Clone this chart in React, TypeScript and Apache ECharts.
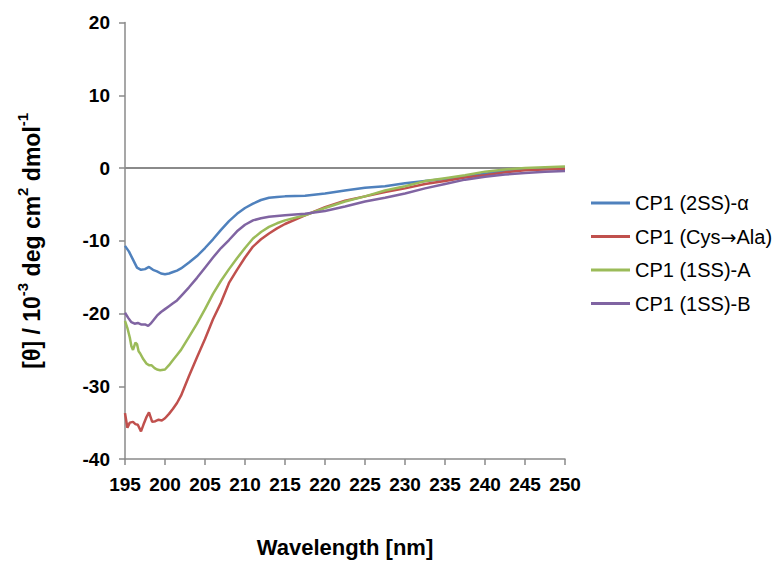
import React, { useEffect, useRef } from "react";
import * as echarts from "echarts";

const seriesNames = ["CP1 (2SS)-α", "CP1 (Cys→Ala)", "CP1 (1SS)-A", "CP1 (1SS)-B"];
const seriesColors = ["#4F81BD", "#C0504D", "#9BBB59", "#8064A2"];

const blueX = [195, 195.5, 196, 196.5, 197, 197.5, 198, 198.5, 199, 199.5, 200, 200.5, 201, 201.5, 202, 203, 204, 205, 206, 207, 208, 209, 210, 211, 212, 213, 214, 215, 217.5, 220, 222.5, 225, 227.5, 230, 232.5, 235, 237.5, 240, 242.5, 245, 247.5, 250];
const blueY = [-10.7, -11.5, -12.6, -13.7, -14.0, -13.9, -13.6, -14.0, -14.2, -14.5, -14.6, -14.5, -14.3, -14.1, -13.8, -13.0, -12.1, -11.0, -9.8, -8.5, -7.3, -6.3, -5.5, -4.9, -4.4, -4.1, -4.0, -3.9, -3.8, -3.5, -3.1, -2.7, -2.5, -2.1, -1.8, -1.5, -1.2, -0.8, -0.4, -0.2, 0.0, 0.1];

const redX = [195, 195.3, 195.6, 196, 196.3, 196.6, 197, 197.3, 197.7, 198, 198.4, 198.8, 199.2, 199.6, 200, 200.5, 201, 201.5, 202, 203, 204, 205, 206, 207, 208, 209, 210, 211, 212, 213, 214, 215, 217.5, 220, 222.5, 225, 227.5, 230, 232.5, 235, 237.5, 240, 242.5, 245, 247.5, 250];
const redY = [-33.7, -35.7, -35.0, -34.9, -35.2, -35.3, -36.2, -35.3, -34.2, -33.6, -34.9, -34.8, -34.6, -34.7, -34.4, -33.8, -33.1, -32.3, -31.3, -28.6, -26.0, -23.5, -20.8, -18.5, -15.8, -14.0, -12.3, -10.8, -9.8, -9.0, -8.3, -7.7, -6.5, -5.4, -4.5, -3.9, -3.3, -2.8, -2.2, -1.8, -1.3, -1.0, -0.6, -0.3, -0.2, -0.1];

const greenX = [195, 195.3, 195.6, 195.8, 196, 196.3, 196.5, 196.7, 196.9, 197.3, 197.7, 198, 198.3, 198.7, 199, 199.4, 200, 200.5, 201, 201.5, 202, 203, 204, 205, 206, 207, 208, 209, 210, 211, 212, 213, 214, 215, 217.5, 220, 222.5, 225, 227.5, 230, 232.5, 235, 237.5, 240, 242.5, 245, 247.5, 250];
const greenY = [-21.0, -22.0, -23.3, -24.5, -25.0, -24.0, -24.2, -25.2, -25.5, -26.3, -26.9, -27.1, -27.1, -27.5, -27.7, -27.8, -27.7, -27.1, -26.4, -25.7, -25.0, -23.2, -21.4, -19.4, -17.3, -15.5, -13.9, -12.4, -11.0, -9.7, -8.8, -8.1, -7.6, -7.2, -6.5, -5.5, -4.6, -3.9, -3.1, -2.5, -1.8, -1.4, -1.0, -0.5, -0.2, 0.0, 0.1, 0.2];

const purpleX = [195, 195.4, 195.8, 196.2, 196.6, 197, 197.5, 197.9, 198.2, 198.5, 199, 199.5, 200, 200.5, 201, 201.5, 202, 203, 204, 205, 206, 207, 208, 209, 210, 211, 212, 213, 214, 215, 217.5, 220, 222.5, 225, 227.5, 230, 232.5, 235, 237.5, 240, 242.5, 245, 247.5, 250];
const purpleY = [-19.9, -20.6, -21.2, -21.4, -21.3, -21.5, -21.5, -21.7, -21.4, -21.0, -20.3, -19.8, -19.4, -19.0, -18.6, -18.2, -17.6, -16.4, -15.1, -13.7, -12.3, -11.0, -9.9, -8.7, -7.8, -7.2, -6.9, -6.7, -6.6, -6.5, -6.3, -5.9, -5.3, -4.6, -4.1, -3.5, -2.8, -2.2, -1.6, -1.2, -0.9, -0.7, -0.5, -0.4];

const xTicks = { min: 195, max: 250, interval: 5 };
const yTicks = { min: -40, max: 20, interval: 10 };

const allX = [blueX, redX, greenX, purpleX];
const allY = [blueY, redY, greenY, purpleY];

const FONT = '"Liberation Sans", Arial, sans-serif';
const ARROW_FONT = '"DejaVu Sans", sans-serif';

export default function App() {
  const ref = useRef<HTMLDivElement>(null);
  useEffect(() => {
    if (!ref.current) return;
    const chart = echarts.init(ref.current, null, { renderer: "svg" });
    const series = seriesNames.map((name, i) => ({
      name,
      type: "line",
      data: allX[i].map((x, j) => [x, allY[i][j]]),
      symbol: "none",
      smooth: false,
      z: 3,
      lineStyle: { color: seriesColors[i], width: 2.5 },
      itemStyle: { color: seriesColors[i] },
      ...(i === 0
        ? {
            markLine: {
              silent: true,
              symbol: "none",
              label: { show: false },
              z: 1,
              lineStyle: { color: "#8A8A8A", width: 2, type: "solid" },
              data: [{ yAxis: 0 }],
            },
          }
        : {}),
    }));
    chart.setOption({
      animation: false,
      backgroundColor: "#ffffff",
      textStyle: { fontFamily: FONT },
      grid: { left: 125, right: 210, top: 22.5, bottom: 101, containLabel: false },
      legend: {
        orient: "vertical",
        left: 586,
        top: 187,
        icon: "rect",
        itemWidth: 39,
        itemHeight: 3,
        itemGap: 11.5,
        formatter: (name: string) => {
          const parts = name.split("→");
          if (parts.length === 2) return `{t|${parts[0]}}{a|→}{t|${parts[1]}}`;
          return `{t|${name}}`;
        },
        textStyle: {
          fontFamily: FONT,
          fontSize: 20,
          color: "#000",
          lineHeight: 22,
          rich: {
            t: { fontFamily: FONT, fontSize: 20, color: "#000", lineHeight: 22 },
            a: { fontFamily: ARROW_FONT, fontSize: 19, color: "#000", lineHeight: 22 },
          },
        },
        data: seriesNames,
      },
      xAxis: {
        type: "value",
        min: xTicks.min,
        max: xTicks.max,
        interval: xTicks.interval,
        name: "Wavelength [nm]",
        nameLocation: "middle",
        nameGap: 77,
        nameTextStyle: { fontFamily: FONT, fontSize: 22, fontWeight: "bold", color: "#000", verticalAlign: "top" },
        axisLine: { onZero: false, lineStyle: { color: "#8A8A8A", width: 1.5 } },
        axisTick: { show: true, length: 6, inside: false, lineStyle: { color: "#8A8A8A", width: 1.5 } },
        axisLabel: { fontFamily: FONT, fontSize: 19, fontWeight: "bold", color: "#000", margin: 16 },
        splitLine: { show: false },
      },
      yAxis: {
        type: "value",
        min: yTicks.min,
        max: yTicks.max,
        interval: yTicks.interval,
        name: "{n|[θ] / 10}{sup|-3}{n| deg cm}{sup|2}{n| dmol}{sup|-1}",
        nameLocation: "middle",
        nameGap: 82,
        nameRotate: 90,
        nameTextStyle: {
          fontFamily: FONT,
          fontSize: 23,
          fontWeight: "bold",
          color: "#000",
          rich: {
            n: { fontFamily: FONT, fontSize: 23, fontWeight: "bold", color: "#000", lineHeight: 28, verticalAlign: "bottom" },
            sup: { fontFamily: FONT, fontSize: 15, fontWeight: "bold", color: "#000", lineHeight: 28, verticalAlign: "top" },
          },
        },
        axisLine: { show: true, lineStyle: { color: "#8A8A8A", width: 1.5 } },
        axisTick: { show: true, length: 6, inside: false, lineStyle: { color: "#8A8A8A", width: 1.5 } },
        axisLabel: { fontFamily: FONT, fontSize: 19, fontWeight: "bold", color: "#000", margin: 15 },
        splitLine: { show: false },
      },
      series,
    });
    return () => chart.dispose();
  }, []);
  return <div ref={ref} style={{ width: 775, height: 563, position: "absolute", left: 0, top: 0 }} />;
}
